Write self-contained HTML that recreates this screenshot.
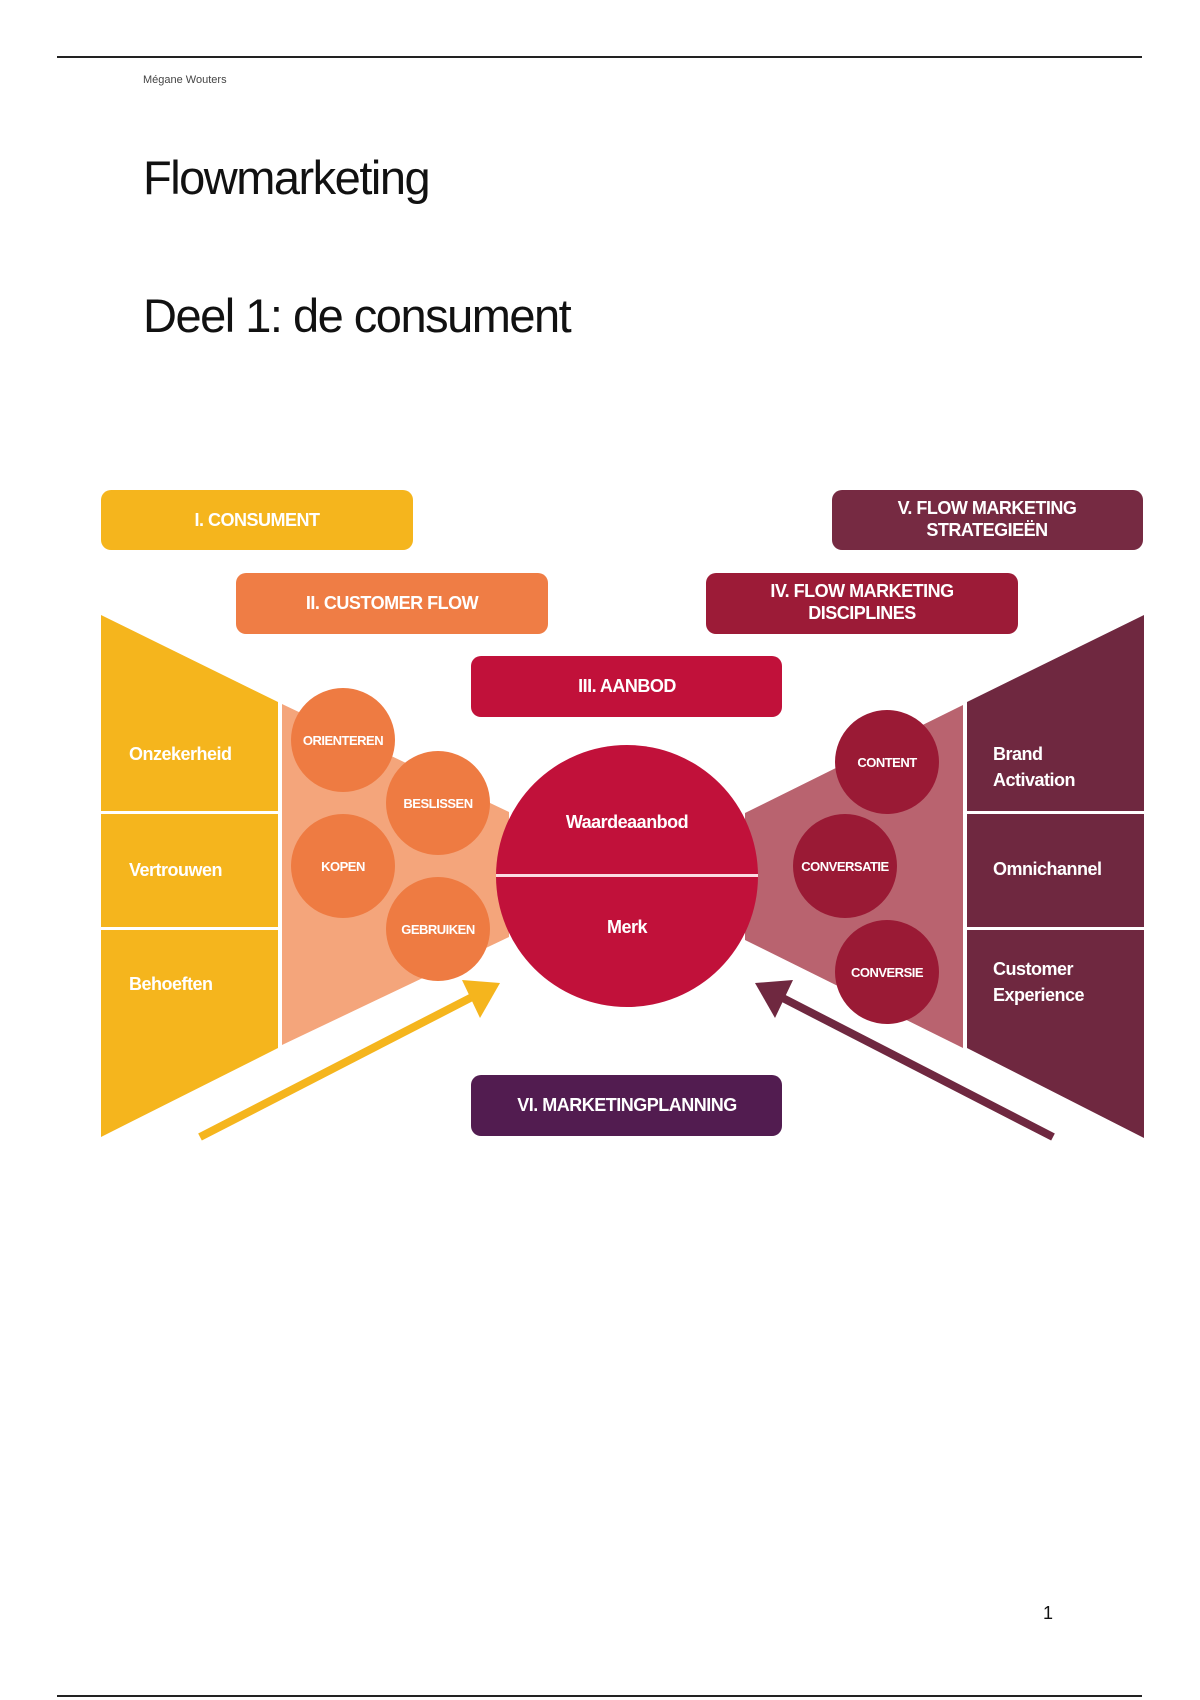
<!DOCTYPE html>
<html><head><meta charset="utf-8"><style>
html,body{margin:0;padding:0;background:#fff;}
body{width:1200px;height:1700px;position:relative;overflow:hidden;font-family:"Liberation Sans",sans-serif;}
.t{position:absolute;color:#111;}
</style></head><body>
<div style="position:absolute;left:57px;top:56px;width:1085px;height:2px;background:#222"></div>
<div class="t" style="left:143px;top:74px;font-size:11px;color:#444">Mégane Wouters</div>
<div class="t" style="left:143px;top:150px;font-size:47px;letter-spacing:-1.5px">Flowmarketing</div>
<div class="t" style="left:143px;top:288px;font-size:47px;letter-spacing:-1.5px">Deel 1: de consument</div>
<div class="t" style="left:1043px;top:1603px;font-size:18px">1</div>
<div style="position:absolute;left:57px;top:1695px;width:1085px;height:2px;background:#222"></div>
<svg style="position:absolute;left:0;top:0" width="1200" height="1700" font-family="Liberation Sans, sans-serif" font-weight="bold" fill="#fff">
<g font-size="18" text-anchor="middle" letter-spacing="-0.5">
<rect x="101" y="490" width="312" height="60" rx="10" fill="#F5B51D"/>
<text x="257" y="526">I. CONSUMENT</text>
<rect x="832" y="490" width="311" height="60" rx="10" fill="#762A42"/>
<text x="987" y="514">V. FLOW MARKETING</text><text x="987" y="536">STRATEGIEËN</text>
<rect x="236" y="573" width="312" height="61" rx="10" fill="#EF7D45"/>
<text x="392" y="609">II. CUSTOMER FLOW</text>
<rect x="706" y="573" width="312" height="61" rx="10" fill="#9C1B37"/>
<text x="862" y="597">IV. FLOW MARKETING</text><text x="862" y="619">DISCIPLINES</text>
<rect x="471" y="656" width="311" height="61" rx="10" fill="#C1113A"/>
<text x="627" y="692">III. AANBOD</text>
<rect x="471" y="1075" width="311" height="61" rx="10" fill="#521C50"/>
<text x="627" y="1111">VI. MARKETINGPLANNING</text>
</g>
<polygon points="101,615 278,702 278,1048 101,1137" fill="#F5B51D"/>
<rect x="101" y="811" width="177" height="3" fill="#fff"/>
<rect x="101" y="927" width="177" height="3" fill="#fff"/>
<polygon points="282,704 509,812 509,937 282,1045" fill="#F4A57B"/>
<polygon points="967,702 1144,615 1144,1138 967,1048" fill="#6F2840"/>
<rect x="967" y="811" width="177" height="3" fill="#fff"/>
<rect x="967" y="927" width="177" height="3" fill="#fff"/>
<polygon points="745,813 963,705 963,1048 745,940" fill="#B9636F"/>
<g fill="#EE7B42"><circle cx="343" cy="740" r="52"/><circle cx="438" cy="803" r="52"/><circle cx="343" cy="866" r="52"/><circle cx="438" cy="929" r="52"/></g>
<g fill="#9A1A35"><circle cx="887" cy="762" r="52"/><circle cx="845" cy="866" r="52"/><circle cx="887" cy="972" r="52"/></g>
<circle cx="627" cy="876" r="131" fill="#C1113A"/>
<rect x="496" y="874" width="262" height="3" fill="#fbdde3"/>
<g font-size="13" text-anchor="middle" letter-spacing="-0.5">
<text x="343" y="745">ORIENTEREN</text><text x="438" y="808">BESLISSEN</text><text x="343" y="871">KOPEN</text><text x="438" y="934">GEBRUIKEN</text>
<text x="887" y="767">CONTENT</text><text x="845" y="871">CONVERSATIE</text><text x="887" y="977">CONVERSIE</text>
</g>
<g font-size="18" text-anchor="middle" letter-spacing="-0.5"><text x="627" y="828">Waardeaanbod</text><text x="627" y="933">Merk</text></g>
<g font-size="18" letter-spacing="-0.5"><text x="129" y="760">Onzekerheid</text><text x="129" y="876">Vertrouwen</text><text x="129" y="990">Behoeften</text>
<text x="993" y="760">Brand</text><text x="993" y="786">Activation</text><text x="993" y="875">Omnichannel</text><text x="993" y="975">Customer</text><text x="993" y="1001">Experience</text></g>
<line x1="200" y1="1137" x2="478" y2="994" stroke="#F5B51D" stroke-width="8"/>
<polygon points="500,983 462,980 480,1018" fill="#F5B51D"/>
<line x1="1053" y1="1137" x2="775" y2="994" stroke="#6F2840" stroke-width="8"/>
<polygon points="755,983 793,980 775,1018" fill="#6F2840"/>
</svg>
</body></html>
